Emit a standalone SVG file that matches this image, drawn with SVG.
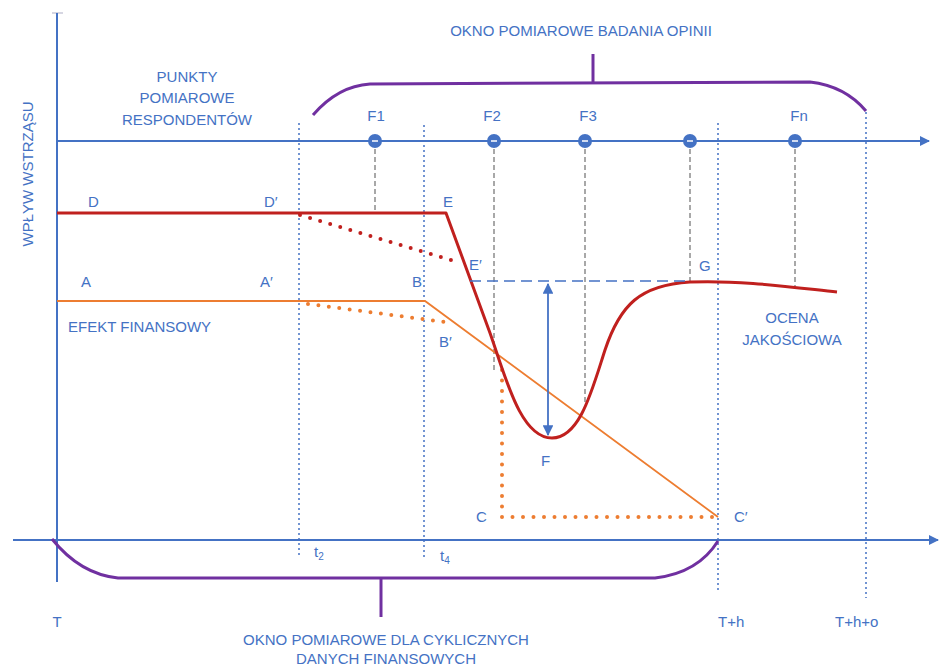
<svg xmlns="http://www.w3.org/2000/svg" width="942" height="669" viewBox="0 0 942 669">
  <style>
    text { font-family: "Liberation Sans", Arial, sans-serif; font-size: 15px; fill: #4472C4; }
    .mid { text-anchor: middle; }
    .axis { stroke: #4472C4; stroke-width: 2; fill: none; }
    .guide { stroke: #4472C4; stroke-width: 1.5; stroke-dasharray: 2 3; fill: none; }
    .probe { stroke: #8c8c8c; stroke-width: 1.5; stroke-dasharray: 5 3; fill: none; }
    .brace { stroke: #7030A0; stroke-width: 3; fill: none; }
    .shock { stroke: #C0201E; stroke-width: 3; fill: none; stroke-linejoin: round; }
    .shock-dots { stroke: #C0201E; stroke-width: 4; stroke-linecap: round; stroke-dasharray: 0 10.5; fill: none; }
    .fin { stroke: #ED7D31; stroke-width: 1.8; fill: none; }
    .fin-dots { stroke: #ED7D31; stroke-width: 4; stroke-linecap: round; stroke-dasharray: 0 10.5; fill: none; }
    .level { stroke: #4472C4; stroke-width: 1.6; stroke-dasharray: 11 6; fill: none; }
    .pt { fill: #4472C4; }
    .pt-mark { stroke: #ffffff; stroke-width: 1.5; }
  </style>
  <defs>
    <marker id="arrowAxis" viewBox="0 0 10 10" refX="9" refY="5" markerWidth="5" markerHeight="5" orient="auto" markerUnits="strokeWidth">
      <path d="M0,0 L10,5 L0,10 Z" fill="#4472C4"/>
    </marker>
    <marker id="arrowGap" viewBox="0 0 10 10" refX="9" refY="5" markerWidth="6" markerHeight="6" orient="auto-start-reverse" markerUnits="strokeWidth">
      <path d="M0,0 L10,5 L0,10 Z" fill="#4472C4"/>
    </marker>
  </defs>

  <!-- axes -->
  <g id="axes">
    <line x1="52" y1="13" x2="63" y2="13" stroke="#c8c8d8" stroke-width="1.5"/>
    <line class="axis" x1="57" y1="13" x2="57" y2="582"/>
    <line class="axis" x1="13" y1="540" x2="938" y2="540" marker-end="url(#arrowAxis)"/>
    <line class="axis" x1="57" y1="141" x2="929" y2="141" marker-end="url(#arrowAxis)"/>
  </g>

  <!-- time guides -->
  <g id="guides">
    <line class="guide" x1="299" y1="123" x2="299" y2="556"/>
    <line class="guide" x1="424" y1="125" x2="424" y2="560"/>
    <line class="guide" x1="718" y1="123" x2="718" y2="592"/>
    <line class="guide" x1="866" y1="112" x2="866" y2="598"/>
  </g>

  <!-- measurement window braces -->
  <g id="brace-opinion">
    <path class="brace" d="M313,115 Q338,86 370,84 L810,82 Q845,86 866,111"/>
    <line class="brace" x1="593" y1="54" x2="593" y2="83"/>
  </g>
  <g id="brace-finance">
    <path class="brace" d="M52,539 Q80,574 118,578 L655,578 Q698,573 718,541"/>
    <line class="brace" x1="381" y1="578" x2="381" y2="617"/>
  </g>

  <!-- connectors: probes, curves, gap arrow -->
  <g id="connectors">
    <line class="probe" x1="375" y1="141" x2="375" y2="212"/>
    <line class="probe" x1="494" y1="141" x2="494" y2="372"/>
    <line class="probe" x1="585" y1="141" x2="585" y2="405"/>
    <line class="probe" x1="690" y1="141" x2="690" y2="281"/>
    <line class="probe" x1="795" y1="141" x2="795" y2="288"/>

    <path class="fin-dots" d="M308,304 L452,323"/>
    <path class="fin-dots" d="M502,370 L502,517 L718,517"/>
    <path class="fin" d="M57,301 L425,301 L718,517"/>

    <path class="shock-dots" d="M300,215 L454,261"/>
    <path class="shock" d="M57,213 L446,213 L490,333 C505,375 520,438 552,438 C580,438 592,390 605,350 C620,305 640,285 690,282 C740,280 790,287 837,292"/>

    <line class="level" x1="470" y1="281" x2="690" y2="281"/>
    <line x1="548" y1="284" x2="548" y2="435" stroke="#4472C4" stroke-width="1.8" marker-start="url(#arrowGap)" marker-end="url(#arrowGap)"/>
  </g>

  <!-- respondent measurement points -->
  <g id="points">
    <g id="pt-F1"><circle class="pt" cx="375" cy="141" r="7"/><line class="pt-mark" x1="372" y1="141" x2="378" y2="141"/></g>
    <g id="pt-F2"><circle class="pt" cx="494" cy="141" r="7"/><line class="pt-mark" x1="491" y1="141" x2="497" y2="141"/></g>
    <g id="pt-F3"><circle class="pt" cx="585" cy="141" r="7"/><line class="pt-mark" x1="582" y1="141" x2="588" y2="141"/></g>
    <g id="pt-F4"><circle class="pt" cx="690" cy="141" r="7"/><line class="pt-mark" x1="687" y1="141" x2="693" y2="141"/></g>
    <g id="pt-Fn"><circle class="pt" cx="795" cy="141" r="7"/><line class="pt-mark" x1="792" y1="141" x2="798" y2="141"/></g>
  </g>

  <!-- labels -->
  <g id="labels">
    <text class="mid" x="581" y="36">OKNO POMIAROWE BADANIA OPINII</text>
    <text class="mid" x="187" y="82">PUNKTY</text>
    <text class="mid" x="187" y="103">POMIAROWE</text>
    <text class="mid" x="187" y="125">RESPONDENTÓW</text>
    <text class="mid" transform="translate(33,174) rotate(-90)">WPŁYW WSTRZĄSU</text>

    <text class="mid" x="376" y="121">F1</text>
    <text class="mid" x="492" y="121">F2</text>
    <text class="mid" x="588" y="121">F3</text>
    <text class="mid" x="799" y="121">Fn</text>

    <text x="88" y="207">D</text>
    <text x="264" y="207">D′</text>
    <text x="443" y="207">E</text>
    <text x="469" y="270">E′</text>
    <text x="81" y="287">A</text>
    <text x="260" y="287">A′</text>
    <text x="412" y="287">B</text>
    <text x="439" y="347">B′</text>
    <text x="68" y="332">EFEKT FINANSOWY</text>
    <text x="699" y="271">G</text>
    <text class="mid" x="792" y="323">OCENA</text>
    <text class="mid" x="792" y="345">JAKOŚCIOWA</text>
    <text x="541" y="466">F</text>
    <text x="476" y="522">C</text>
    <text x="734" y="522">C′</text>

    <text x="314" y="557">t<tspan font-size="10" dy="3">2</tspan></text>
    <text x="440" y="561">t<tspan font-size="10" dy="3">4</tspan></text>
    <text class="mid" x="57" y="627">T</text>
    <text x="718" y="627">T+h</text>
    <text x="835" y="627">T+h+o</text>

    <text class="mid" x="386" y="645">OKNO POMIAROWE DLA CYKLICZNYCH</text>
    <text class="mid" x="386" y="664">DANYCH FINANSOWYCH</text>
  </g>
</svg>
